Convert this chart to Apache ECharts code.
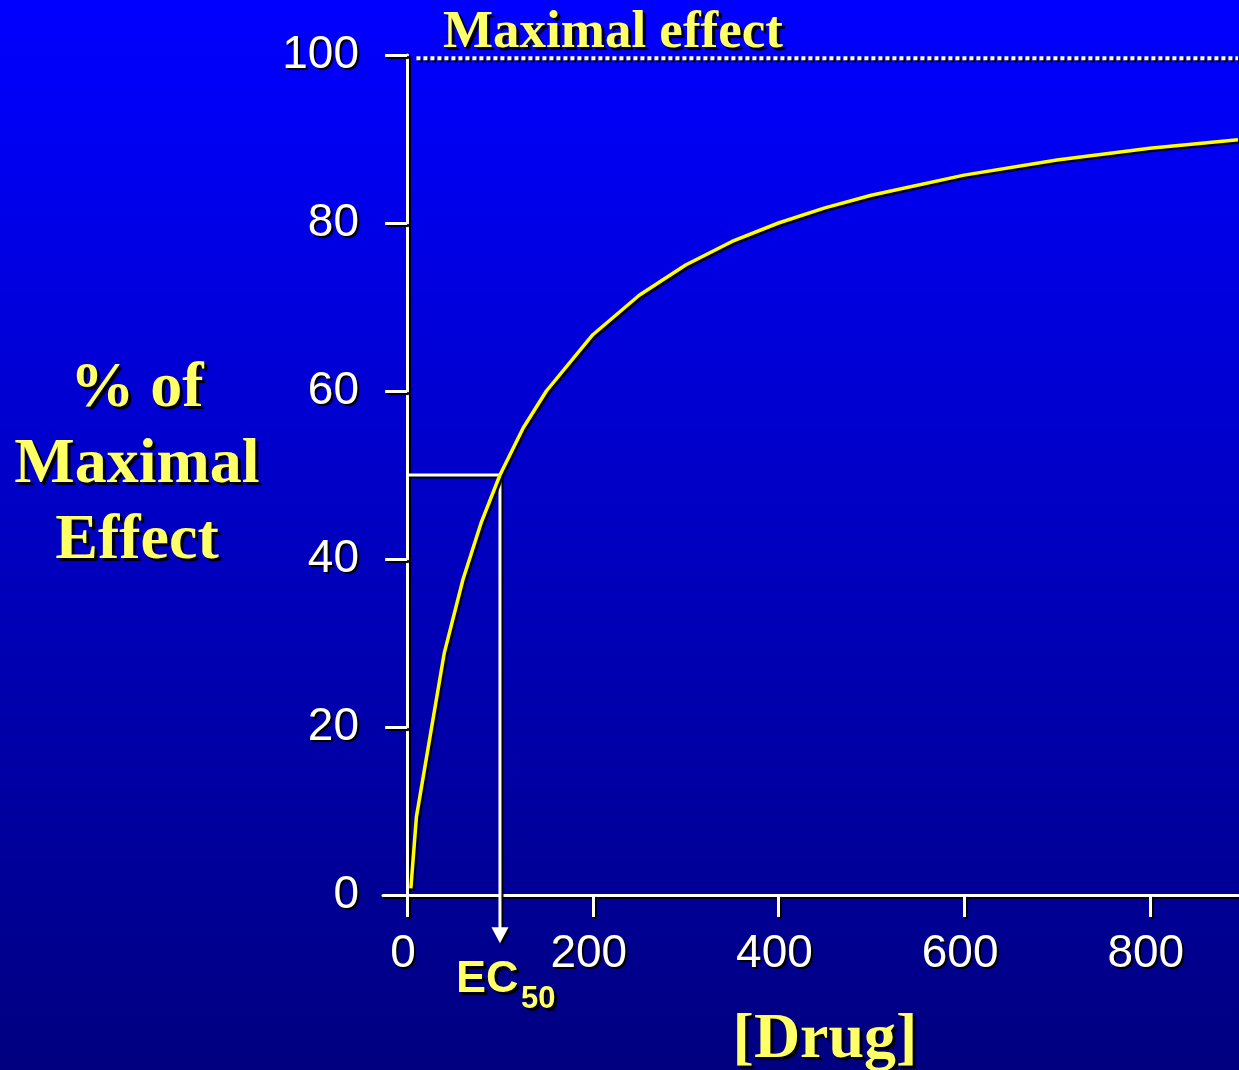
<!DOCTYPE html>
<html>
<head>
<meta charset="utf-8">
<script src="https://cdn.jsdelivr.net/npm/echarts@6/dist/echarts.min.js"></script>
<style>
  html, body { margin: 0; padding: 0; }
  #chart { width: 1239px; height: 1070px; }
</style>
</head>
<body>
<div id="chart"></div>
<script>
// dose-response curve
const doseValues = [4, 10, 40, 60, 80, 100, 125, 150, 200, 250, 300, 350, 400, 450, 500, 600, 700, 800, 895]
const effectValues = [0.8, 9.3, 28.8, 37.5, 44.4, 50, 55.6, 60, 66.7, 71.4, 75, 77.8, 80, 81.8, 83.3, 85.7, 87.5, 88.9, 89.9]
const xTicks = [0, 200, 400, 600, 800]
const ec50 = 100
const maxLineY = 99.6
const maxLineX = [10, 895]

const chart = echarts.init(document.getElementById('chart'))

const yellow = '#ffff66'
const shadow = { textShadowColor: '#000', textShadowOffsetX: 3, textShadowOffsetY: 3, textShadowBlur: 1 }
const smallShadow = { textShadowColor: '#000', textShadowOffsetX: 2, textShadowOffsetY: 2, textShadowBlur: 1 }
const lineShadow = { shadowColor: '#000', shadowOffsetX: 2, shadowOffsetY: 2, shadowBlur: 1 }
const white = { color: '#fff', width: 3, ...lineShadow }

const option = {
  animation: false,
  backgroundColor: new echarts.graphic.LinearGradient(0, 0, 0, 1, [
    { offset: 0, color: '#0000ff' },
    { offset: 0.1, color: '#0000f6' },
    { offset: 1, color: '#000080' }
  ]),
  grid: { left: 383, right: 1, top: 55, bottom: 175 },
  xAxis: {
    type: 'value',
    min: -26,
    max: 895,
    axisLine: { onZero: false, lineStyle: white },
    axisTick: { show: true, customValues: xTicks, length: 22, lineStyle: white },
    axisLabel: {
      customValues: xTicks,
      margin: 36,
      padding: [0, 8, 0, 0],
      color: '#fff',
      fontFamily: 'Liberation Sans',
      fontSize: 46,
      ...smallShadow
    },
    splitLine: { show: false }
  },
  yAxis: {
    type: 'value',
    min: 0,
    max: 100,
    interval: 20,
    axisLine: { show: true, onZero: true, lineStyle: white },
    axisTick: { show: true, length: 22, lineStyle: white },
    axisLabel: {
      margin: 24,
      color: '#fff',
      fontFamily: 'Liberation Sans',
      fontSize: 46,
      ...smallShadow
    },
    splitLine: { show: false }
  },
  series: [
    {
      // EC50 guide: horizontal at 50% then down below the axis
      type: 'line',
      data: [[0, ec50 / 2], [ec50, ec50 / 2], [ec50, -4]],
      symbol: 'none',
      clip: false,
      silent: true,
      z: 3,
      lineStyle: white
    },
    {
      type: 'scatter',
      data: [[ec50, -4.8]],
      symbol: 'triangle',
      symbolRotate: 180,
      symbolSize: [17, 16],
      clip: false,
      silent: true,
      z: 3,
      itemStyle: { color: '#fff', opacity: 1, ...lineShadow }
    },
    {
      // maximal effect dotted line
      type: 'line',
      data: maxLineX.map((x) => [x, maxLineY]),
      symbol: 'none',
      clip: false,
      silent: true,
      z: 3,
      lineStyle: { ...white, width: 4, type: [4, 3] }
    },
    {
      type: 'line',
      data: doseValues.map((d, i) => [d, effectValues[i]]),
      symbol: 'none',
      smooth: false,
      clip: false,
      silent: true,
      z: 5,
      lineStyle: { color: '#ffff00', width: 3.5, ...lineShadow }
    }
  ],
  graphic: [
    {
      type: 'text', left: 443, top: 7,
      style: { text: 'Maximal effect', fill: yellow, font: 'bold 53px "Liberation Serif"', ...shadow }
    },
    {
      type: 'text', x: 137, y: 465,
      style: {
        text: '% of\nMaximal\nEffect', fill: yellow, font: 'bold 64px "Liberation Serif"',
        align: 'center', verticalAlign: 'middle', lineHeight: 76, ...shadow
      }
    },
    {
      type: 'text', x: 825, y: 1040,
      style: { text: '[Drug]', fill: yellow, font: 'bold 64px "Liberation Serif"', align: 'center', verticalAlign: 'middle', ...shadow }
    },
    {
      type: 'text', x: 456, y: 980,
      style: { text: 'EC', fill: yellow, font: 'bold 45px "Liberation Sans"', verticalAlign: 'middle', ...shadow }
    },
    {
      type: 'text', x: 521, y: 999,
      style: { text: '50', fill: yellow, font: 'bold 31px "Liberation Sans"', verticalAlign: 'middle', ...shadow }
    }
  ]
}

chart.setOption(option)
</script>
</body>
</html>
